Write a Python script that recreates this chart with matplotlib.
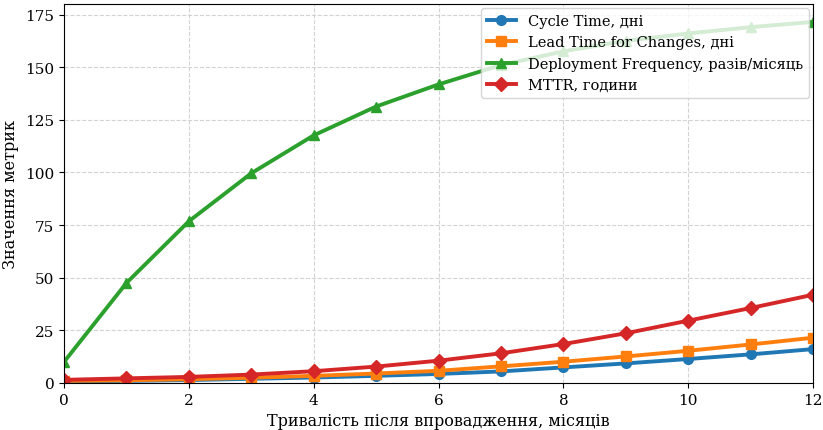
import matplotlib
matplotlib.use("Agg")
import matplotlib.pyplot as plt

months = list(range(13))
cycle_time = [0.8, 1.0, 1.4, 2.0, 2.6, 3.4, 4.3, 5.5, 7.4, 9.3, 11.4, 13.6, 16.1]
lead_time = [1.0, 1.3, 1.8, 2.5, 3.4, 4.5, 5.8, 7.9, 10.1, 12.6, 15.3, 18.3, 21.5]
deploy_freq = [10.0, 47.5, 76.8, 99.6, 117.6, 131.3, 141.8, 151.0, 157.5, 162.5, 166.0, 169.0, 171.5]
mttr = [1.5, 2.2, 2.9, 4.0, 5.6, 7.8, 10.6, 14.1, 18.5, 23.6, 29.6, 35.6, 41.9]

labels = ["Cycle Time, дні", "Lead Time for Changes, дні",
          "Deployment Frequency, разів/місяць", "MTTR, години"]
xlabel = "Тривалість після впровадження, місяців"
ylabel = "Значення метрик"

plt.rcParams['font.family'] = ['DejaVu Serif']
fig = plt.figure(figsize=(8.23, 4.31), dpi=100)
ax = fig.add_axes([64/823, 1-384/431, (813-64)/823, (384-5)/431])

ax.plot(months, cycle_time, marker='o', color='#1f77b4', lw=2.8, ms=7, label=labels[0])
ax.plot(months, lead_time, marker='s', color='#ff7f0e', lw=2.8, ms=7, label=labels[1])
ax.plot(months, deploy_freq, marker='^', color='#2ca02c', lw=2.8, ms=7, label=labels[2])
ax.plot(months, mttr, marker='D', color='#d62728', lw=2.8, ms=7, label=labels[3])

ax.set_xlim(0, 12)
ax.set_ylim(0, 180)
ax.set_yticks([0, 25, 50, 75, 100, 125, 150, 175])
ax.set_xticks([0, 2, 4, 6, 8, 10, 12])
ax.grid(True, linestyle='--', color='#c8c8c8', alpha=0.8)
ax.set_xlabel(xlabel, fontsize=11.5)
ax.set_ylabel(ylabel, fontsize=11.5)
ax.tick_params(labelsize=11)
ax.legend(loc='upper right', fontsize=10.5, borderaxespad=0.3)

fig.savefig("out.png", dpi=100)
